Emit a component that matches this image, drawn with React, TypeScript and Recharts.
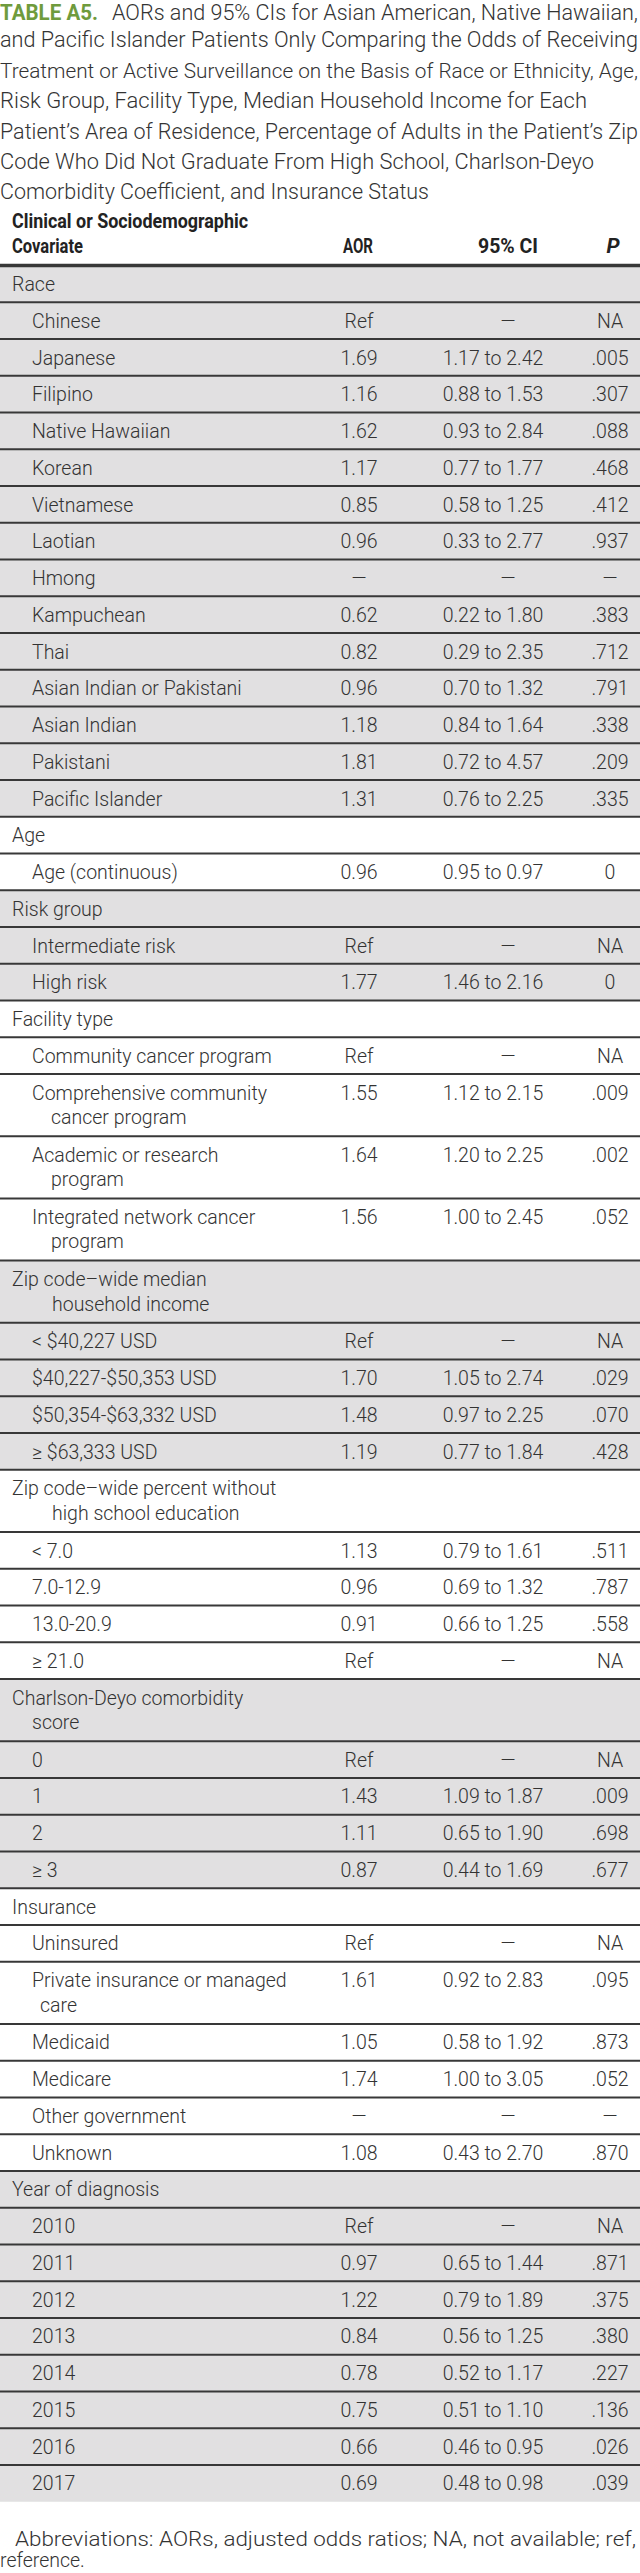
import React from "react";
import { ComposedChart, XAxis, YAxis, Scatter, ReferenceArea, ReferenceLine } from "recharts";

// ---------- text content ----------
const TITLE_LEAD = "TABLE A5.";
const TITLE_LINES = [
  "AORs and 95% CIs for Asian American, Native Hawaiian,",
  "and Pacific Islander Patients Only Comparing the Odds of Receiving",
  "Treatment or Active Surveillance on the Basis of Race or Ethnicity, Age,",
  "Risk Group, Facility Type, Median Household Income for Each",
  "Patient\u2019s Area of Residence, Percentage of Adults in the Patient\u2019s Zip",
  "Code Who Did Not Graduate From High School, Charlson-Deyo",
  "Comorbidity Coefficient, and Insurance Status",
];
const HEADER_COVARIATE = ["Clinical or Sociodemographic", "Covariate"];
const HEADER_AOR = "AOR";
const HEADER_CI = "95% CI";
const HEADER_P = "P";
const FOOTNOTE = [
  "Abbreviations: AORs, adjusted odds ratios; NA, not available; ref,",
  "reference.",
];

// ---------- table data (row order) ----------
const covariates = [
  "Race", "Chinese", "Japanese", "Filipino", "Native Hawaiian", "Korean", "Vietnamese", "Laotian",
  "Hmong", "Kampuchean", "Thai", "Asian Indian or Pakistani", "Asian Indian", "Pakistani", "Pacific Islander",
  "Age", "Age (continuous)",
  "Risk group", "Intermediate risk", "High risk",
  "Facility type", "Community cancer program", "Comprehensive community\ncancer program",
  "Academic or research\nprogram", "Integrated network cancer\nprogram",
  "Zip code\u2013wide median\nhousehold income", "< $40,227 USD", "$40,227-$50,353 USD",
  "$50,354-$63,332 USD", "\u2265 $63,333 USD",
  "Zip code\u2013wide percent without\nhigh school education", "< 7.0", "7.0-12.9", "13.0-20.9", "\u2265 21.0",
  "Charlson-Deyo comorbidity\nscore", "0", "1", "2", "\u2265 3",
  "Insurance", "Uninsured", "Private insurance or managed\ncare", "Medicaid", "Medicare",
  "Other government", "Unknown",
  "Year of diagnosis", "2010", "2011", "2012", "2013", "2014", "2015", "2016", "2017",
];
const aorValues = [
  "", "Ref", "1.69", "1.16", "1.62", "1.17", "0.85", "0.96",
  "\u2014", "0.62", "0.82", "0.96", "1.18", "1.81", "1.31",
  "", "0.96",
  "", "Ref", "1.77",
  "", "Ref", "1.55", "1.64", "1.56",
  "", "Ref", "1.70", "1.48", "1.19",
  "", "1.13", "0.96", "0.91", "Ref",
  "", "Ref", "1.43", "1.11", "0.87",
  "", "Ref", "1.61", "1.05", "1.74", "\u2014", "1.08",
  "", "Ref", "0.97", "1.22", "0.84", "0.78", "0.75", "0.66", "0.69",
];
const ciValues = [
  "", "\u2014", "1.17 to 2.42", "0.88 to 1.53", "0.93 to 2.84", "0.77 to 1.77", "0.58 to 1.25", "0.33 to 2.77",
  "\u2014", "0.22 to 1.80", "0.29 to 2.35", "0.70 to 1.32", "0.84 to 1.64", "0.72 to 4.57", "0.76 to 2.25",
  "", "0.95 to 0.97",
  "", "\u2014", "1.46 to 2.16",
  "", "\u2014", "1.12 to 2.15", "1.20 to 2.25", "1.00 to 2.45",
  "", "\u2014", "1.05 to 2.74", "0.97 to 2.25", "0.77 to 1.84",
  "", "0.79 to 1.61", "0.69 to 1.32", "0.66 to 1.25", "\u2014",
  "", "\u2014", "1.09 to 1.87", "0.65 to 1.90", "0.44 to 1.69",
  "", "\u2014", "0.92 to 2.83", "0.58 to 1.92", "1.00 to 3.05", "\u2014", "0.43 to 2.70",
  "", "\u2014", "0.65 to 1.44", "0.79 to 1.89", "0.56 to 1.25", "0.52 to 1.17", "0.51 to 1.10", "0.46 to 0.95", "0.48 to 0.98",
];
const pValues = [
  "", "NA", ".005", ".307", ".088", ".468", ".412", ".937",
  "\u2014", ".383", ".712", ".791", ".338", ".209", ".335",
  "", "0",
  "", "NA", "0",
  "", "NA", ".009", ".002", ".052",
  "", "NA", ".029", ".070", ".428",
  "", ".511", ".787", ".558", "NA",
  "", "NA", ".009", ".698", ".677",
  "", "NA", ".095", ".873", ".052", "\u2014", ".870",
  "", "NA", ".871", ".375", ".380", ".227", ".136", ".026", ".039",
];

// ---------- layout / style ----------
const W = 640;
const H = 2573;
const TABLE_TOP = 265.5;
const ROW_H = 36.75;
const WRAP_EXTRA = 25.45;
const BASE1 = 25.5;
const BASE2 = 24.5;
const X_SECTION = 12;
const X_ITEM = 32;
const X_AOR = 359;
const X_CI = 493;
const X_CI_DASH = 508;
const X_P = 610;
const WRAP_X: Record<string, number> = {
  "cancer program": 51,
  program: 51,
  "household income": 52,
  "high school education": 52,
  score: 32,
  care: 40,
};
const FONT = "Roboto, 'Liberation Sans', Arial, sans-serif";
const BODY_SIZE = 19.5;
const TEXT = "#333333";
const GREY = "#e1e0e1";
const RULE = "#383838";
const GREEN = "#6f9b3d";

// title line geometry (start x, end x, baseline, font size)
const TITLE_GEOM = [
  { x0: 112, x1: 638, y: 20, fs: 21.5 },
  { x0: 0, x1: 638, y: 47.4, fs: 21.3 },
  { x0: 0, x1: 638, y: 77.8, fs: 20.5 },
  { x0: 0, x1: 587, y: 108.2, fs: 21.5 },
  { x0: 0, x1: 638, y: 138.6, fs: 21.2 },
  { x0: 0, x1: 594, y: 169, fs: 21.5 },
  { x0: 0, x1: 429, y: 199.4, fs: 21.5 },
];

type Row = {
  idx: number;
  lines: string[];
  section: boolean;
  sectionIdx: number;
  top: number;
  bottom: number;
};

const rows: Row[] = (() => {
  let y = TABLE_TOP;
  let sec = -1;
  return covariates.map((c, i) => {
    const lines = c.split("\n");
    const section = aorValues[i] === "";
    if (section) sec += 1;
    const h = ROW_H + (lines.length - 1) * WRAP_EXTRA;
    const r = { idx: i, lines, section, sectionIdx: sec, top: y, bottom: y + h };
    y += h;
    return r;
  });
})();

const sections = (() => {
  const out: { idx: number; top: number; bottom: number }[] = [];
  rows.forEach((r) => {
    if (r.section) out.push({ idx: r.sectionIdx, top: r.top, bottom: r.bottom });
    else out[out.length - 1].bottom = r.bottom;
  });
  return out;
})();

const labelPoints = rows.map((r) => ({
  x: r.section ? X_SECTION : X_ITEM,
  y: r.top + BASE1,
  lines: r.lines,
}));
const aorPoints = rows.filter((r) => !r.section).map((r) => ({ x: X_AOR, y: r.top + BASE1, t: aorValues[r.idx] }));
const ciPoints = rows
  .filter((r) => !r.section)
  .map((r) => ({ x: ciValues[r.idx] === "\u2014" ? X_CI_DASH : X_CI, y: r.top + BASE1, t: ciValues[r.idx] }));
const pPoints = rows.filter((r) => !r.section).map((r) => ({ x: X_P, y: r.top + BASE1, t: pValues[r.idx] }));

const LabelShape = (props: any) => {
  const { cx, cy, payload } = props;
  const lines: string[] = payload.lines;
  const x2 = lines.length > 1 ? cx + ((WRAP_X[lines[1]] ?? (payload.x as number) + 20) - (payload.x as number)) : cx;
  return (
    <g>
      <text x={cx} y={cy} fontFamily={FONT} fontWeight={300} fontSize={BODY_SIZE} fill={TEXT}>
        {lines[0]}
      </text>
      {lines.length > 1 && (
        <text x={x2} y={cy + BASE2} fontFamily={FONT} fontWeight={300} fontSize={BODY_SIZE} fill={TEXT}>
          {lines[1]}
        </text>
      )}
    </g>
  );
};

const CenterShape = (props: any) => {
  const { cx, cy, payload } = props;
  return (
    <text x={cx} y={cy} textAnchor="middle" fontFamily={FONT} fontWeight={300} fontSize={BODY_SIZE} fill={TEXT}>
      {payload.t}
    </text>
  );
};

export default function App() {
  const boundaries = rows.slice(1).map((r) => r.top);
  return (
    <div style={{ position: "absolute", left: 0, top: 0, width: W, height: H, background: "#fff" }}>
      <ComposedChart width={W} height={H} margin={{ top: 0, right: 0, bottom: 0, left: 0 }}>
        <XAxis type="number" dataKey="x" domain={[0, W]} hide allowDataOverflow scale="linear" />
        <YAxis type="number" dataKey="y" domain={[0, H]} reversed hide allowDataOverflow scale="linear" />
        {sections
          .filter((s) => s.idx % 2 === 0)
          .map((s) => (
            <ReferenceArea
              key={"sec" + s.idx}
              x1={0}
              x2={W}
              y1={s.top}
              y2={s.bottom}
              fill={GREY}
              fillOpacity={1}
              stroke="none"
            />
          ))}
        {boundaries.map((b, i) => (
          <ReferenceLine key={"b" + i} y={b} stroke={RULE} strokeWidth={2} />
        ))}
        <ReferenceLine y={TABLE_TOP} stroke={RULE} strokeWidth={3.5} />
        <Scatter data={labelPoints} shape={LabelShape} isAnimationActive={false} />
        <Scatter data={aorPoints} shape={CenterShape} isAnimationActive={false} />
        <Scatter data={ciPoints} shape={CenterShape} isAnimationActive={false} />
        <Scatter data={pPoints} shape={CenterShape} isAnimationActive={false} />
      </ComposedChart>
      <svg width={W} height={H} style={{ position: "absolute", left: 0, top: 0, pointerEvents: "none" }}>
        <text x={0} y={TITLE_GEOM[0].y} fontFamily={FONT} fontWeight={700} fontSize={21.5} fill={GREEN} textLength={98} lengthAdjust="spacingAndGlyphs">
          {TITLE_LEAD}
        </text>
        {TITLE_LINES.map((l, i) => (
          <text
            key={i}
            x={TITLE_GEOM[i].x0}
            y={TITLE_GEOM[i].y}
            fontFamily={FONT}
            fontWeight={300}
            fontSize={TITLE_GEOM[i].fs}
            fill={TEXT}
            textLength={TITLE_GEOM[i].x1 - TITLE_GEOM[i].x0}
            lengthAdjust="spacingAndGlyphs"
          >
            {l}
          </text>
        ))}
        <text x={12} y={228} fontFamily={FONT} fontWeight={700} fontSize={21} fill="#222" textLength={236} lengthAdjust="spacingAndGlyphs">
          {HEADER_COVARIATE[0]}
        </text>
        <text x={12} y={253} fontFamily={FONT} fontWeight={700} fontSize={21} fill="#222" textLength={71} lengthAdjust="spacingAndGlyphs">
          {HEADER_COVARIATE[1]}
        </text>
        <text x={343} y={253} fontFamily={FONT} fontWeight={700} fontSize={21} fill="#222" textLength={30} lengthAdjust="spacingAndGlyphs">
          {HEADER_AOR}
        </text>
        <text x={478} y={253} fontFamily={FONT} fontWeight={700} fontSize={21} fill="#222" textLength={60} lengthAdjust="spacingAndGlyphs">
          {HEADER_CI}
        </text>
        <text x={613} y={253} textAnchor="middle" fontFamily={FONT} fontWeight={700} fontStyle="italic" fontSize={21} fill="#222">
          {HEADER_P}
        </text>
        <text x={15} y={2546} fontFamily={FONT} fontWeight={300} fontSize={BODY_SIZE} fill={TEXT} textLength={621} lengthAdjust="spacingAndGlyphs">
          {FOOTNOTE[0]}
        </text>
        <text x={0} y={2567} fontFamily={FONT} fontWeight={300} fontSize={BODY_SIZE} fill={TEXT}>
          {FOOTNOTE[1]}
        </text>
      </svg>
    </div>
  );
}
